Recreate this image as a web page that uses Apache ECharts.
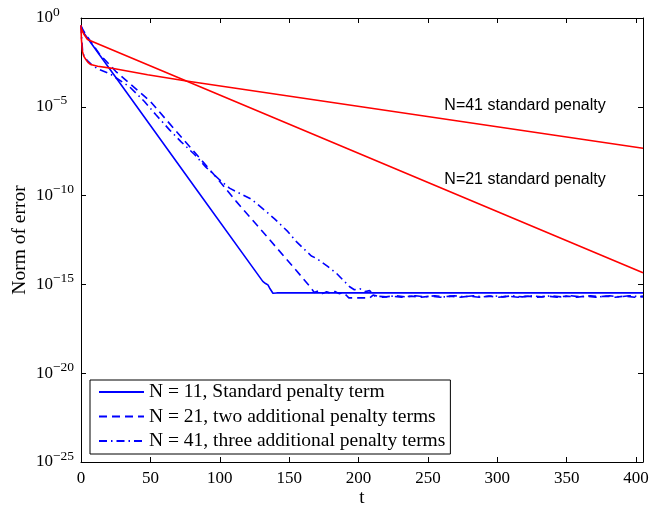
<!DOCTYPE html>
<html>
<head>
<meta charset="utf-8">
<script src="https://cdn.jsdelivr.net/npm/echarts@6/dist/echarts.min.js"></script>
<style>html,body{margin:0;padding:0;background:#fff;}#c{width:651px;height:508px;}</style>
</head>
<body>
<div id="c"></div>
<script>
// x: time t; y: log10 of error norm
const xTicks = [0, 50, 100, 150, 200, 250, 300, 350, 400];
const yTickExponents = [0, -5, -10, -15, -20, -25];

const n11T = [0, 1.5, 35, 84, 131, 133, 134.7, 135.9, 137, 138.3, 141, 405];
const n11Log = [-0.45, -0.79, -4.42, -9.74, -14.83, -14.95, -15.03, -15.2, -15.31, -15.5, -15.48, -15.48];

const n21T = [0, 2, 5, 13, 25, 50, 70, 95, 112, 125, 140, 155, 166, 168, 171, 174, 177, 180, 183, 186, 189, 191, 193, 200, 208, 210.5,
  217, 224, 231, 238, 245, 252, 259, 266, 273, 280, 287, 294, 301, 308, 315, 322, 329, 336, 343, 350, 357, 364, 371, 378, 385, 392, 399, 405];
const n21Log = [-0.45, -0.75, -1.1, -2.0, -3.0, -4.7, -6.5, -8.74, -10.34, -11.5, -12.85, -14.2, -15.22, -15.45, -15.36, -15.52, -15.42, -15.5, -15.4, -15.52, -15.45, -15.6, -15.76, -15.76, -15.76, -15.6,
  -15.72, -15.66, -15.72, -15.66, -15.72, -15.66, -15.72, -15.66, -15.72, -15.66, -15.72, -15.66, -15.72, -15.66, -15.72, -15.66, -15.72, -15.66, -15.72, -15.66, -15.72, -15.66, -15.72, -15.66, -15.72, -15.66, -15.72, -15.66];

const n41T = [0, 0.5, 1.2, 2.5, 4.6, 8, 11.8, 21, 35, 45.7, 54, 63.8, 72, 82, 90, 100, 107, 114.3, 122.7, 133.5, 139.5, 149.1, 155.2, 166, 169.6, 178, 184, 193.6, 197, 201, 205, 208, 211,
  220, 227, 234, 241, 248, 255, 262, 269, 276, 283, 290, 297, 304, 311, 318, 325, 332, 339, 346, 353, 360, 367, 374, 381, 388, 395, 405];
const n41Log = [-0.4, -1.2, -1.9, -2.2, -2.4, -2.65, -2.85, -3.15, -3.87, -4.7, -5.45, -6.3, -6.96, -7.7, -8.4, -9.12, -9.58, -9.87, -10.2, -10.9, -11.31, -12.03, -12.59, -13.4, -13.53, -14.0, -14.37, -15.13, -15.3, -15.25, -15.4, -15.35, -15.65,
  -15.7, -15.64, -15.7, -15.64, -15.7, -15.64, -15.7, -15.64, -15.7, -15.64, -15.7, -15.64, -15.7, -15.64, -15.7, -15.64, -15.7, -15.64, -15.7, -15.64, -15.7, -15.64, -15.7, -15.64, -15.7, -15.64, -15.7];

const std21T = [0, 2, 4.7, 405];
const std21Log = [-0.55, -0.9, -1.21, -14.34];

const std41T = [0, 0.3, 1.0, 2.0, 3.4, 5, 7, 12, 21.4, 48, 76, 405];
const std41Log = [-0.4, -1.2, -1.87, -2.15, -2.33, -2.5, -2.62, -2.72, -2.82, -3.2, -3.55, -7.33];

const legendNames = ['N = 11, Standard penalty term', 'N = 21, two additional penalty terms', 'N = 41, three additional penalty terms'];
const annotations = [
  {text: 'N=41 standard penalty', t: 320, e: -4.95},
  {text: 'N=21 standard penalty', t: 320, e: -9.09}
];

function pairs(ts, vs) { return ts.map((t, i) => [t, vs[i]]); }

const serif = 'Liberation Serif';
const blue = '#0000ff', red = '#ff0000';

const chart = echarts.init(document.getElementById('c'));
const baseX = {type: 'value', min: 0, max: 405, interval: 50,
  axisLine: {show: true, onZero: false, lineStyle: {color: '#000', width: 1}},
  axisTick: {show: true, inside: true, length: 5, lineStyle: {color: '#000'}},
  splitLine: {show: false}};
const baseY = {type: 'value', min: -25, max: 0, interval: 5,
  axisLine: {show: true, onZero: false, lineStyle: {color: '#000', width: 1}},
  axisTick: {show: true, inside: true, length: 5, lineStyle: {color: '#000'}},
  splitLine: {show: false}};

function lineSeries(name, data, color, type, extra) {
  return Object.assign({
    name: name, type: 'line', data: data, symbol: 'none', showSymbol: false,
    xAxisIndex: 0, yAxisIndex: 0, animation: false, silent: true,
    lineStyle: {color: color, width: 1.6, type: type},
    itemStyle: {color: color}
  }, extra || {});
}

function annotationPoint(a) {
  return {symbol: 'rect', symbolSize: [1, 1], itemStyle: {color: 'rgba(0,0,0,0)'}, silent: true, animation: false,
    data: [{coord: [a.t, a.e], label: {show: true, position: 'inside', formatter: a.text,
      fontFamily: 'Liberation Sans', fontSize: 16, color: '#000'}}]};
}

chart.setOption({
  backgroundColor: '#fff',
  animation: false,
  grid: {left: 81, right: 8, top: 18, bottom: 46, containLabel: false, outerBoundsMode: 'none'},
  xAxis: [
    Object.assign({}, baseX, {position: 'bottom', name: 't', nameLocation: 'middle', nameGap: 27, nameMoveOverlap: false,
      nameTextStyle: {fontFamily: serif, fontSize: 19, color: '#000'},
      axisLabel: {show: true, margin: 8, fontFamily: serif, fontSize: 17, color: '#000',
        customValues: xTicks}}),
    Object.assign({}, baseX, {position: 'top', axisLabel: {show: false}})
  ],
  yAxis: [
    Object.assign({}, baseY, {position: 'left', name: 'Norm of error', nameLocation: 'middle', nameGap: 51, nameRotate: 90, nameMoveOverlap: false,
      nameTextStyle: {fontFamily: serif, fontSize: 19.5, color: '#000'},
      axisLabel: {show: true, margin: 45, align: 'left', color: '#000',
        formatter: function (v) {
          const s = v === 0 ? '0' : '\u2212' + Math.abs(v);
          return '{b|10}{s|' + s + '}';
        },
        rich: {
          b: {fontFamily: serif, fontSize: 17, color: '#000'},
          s: {fontFamily: serif, fontSize: 13.5, color: '#000', padding: [0, 0, 12, 0]}
        }}}),
    Object.assign({}, baseY, {position: 'right', axisLabel: {show: false}})
  ],
  legend: {
    show: true, orient: 'vertical', left: 90, top: 380,
    data: legendNames,
    itemWidth: 45, itemHeight: 14, itemGap: 4.5,
    padding: [2, 5, 3, 8],
    itemStyle: {opacity: 0},
    backgroundColor: '#fff', borderColor: '#000', borderWidth: 1, borderRadius: 0,
    textStyle: {fontFamily: serif, fontSize: 19.5, color: '#000'},
    selectedMode: false
  },
  series: [
    lineSeries(legendNames[0], pairs(n11T, n11Log), blue, 'solid'),
    lineSeries(legendNames[1], pairs(n21T, n21Log), blue, [8, 5]),
    lineSeries(legendNames[2], pairs(n41T, n41Log), blue, [8, 4, 1.5, 4]),
    lineSeries('std21', pairs(std21T, std21Log), red, 'solid', {markPoint: annotationPoint(annotations[1])}),
    lineSeries('std41', pairs(std41T, std41Log), red, 'solid', {markPoint: annotationPoint(annotations[0])})
  ]
});
</script>
</body>
</html>
